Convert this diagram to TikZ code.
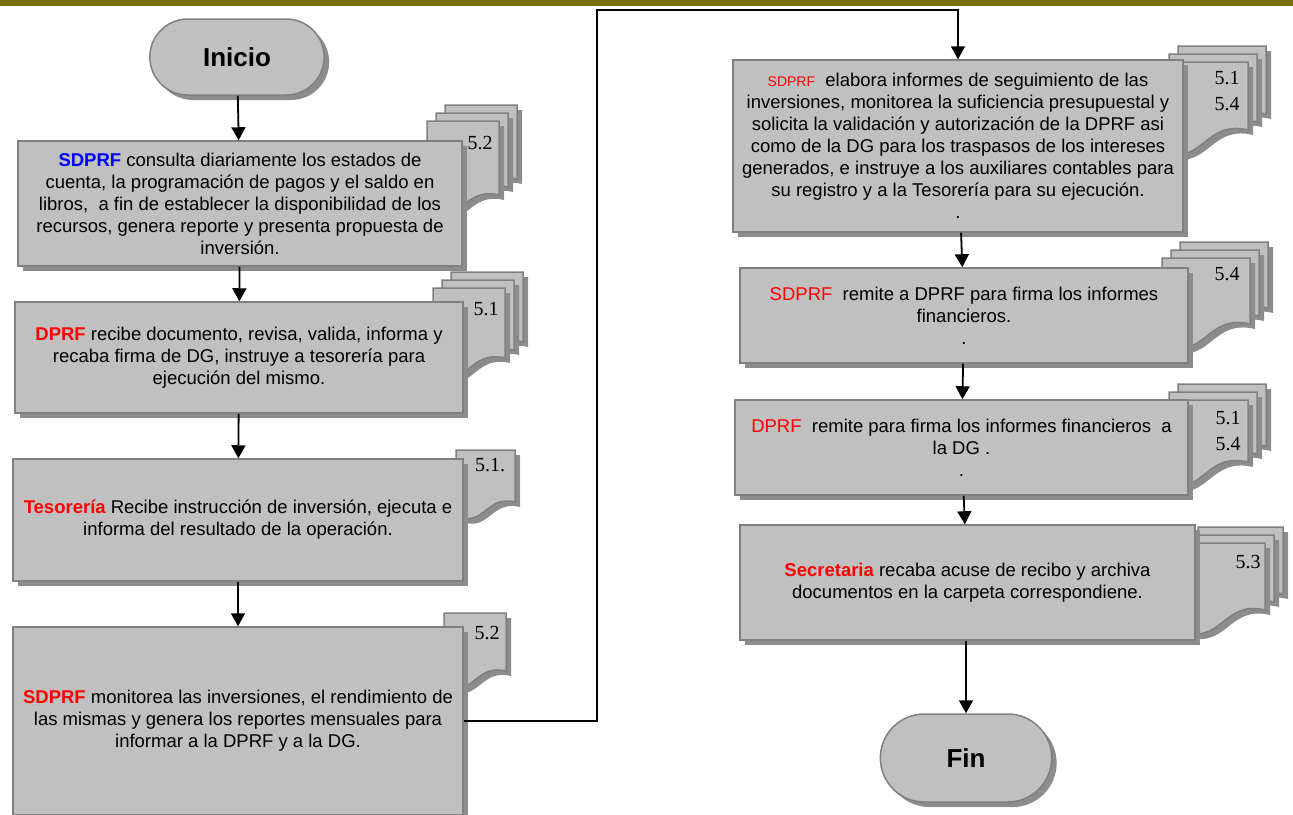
\documentclass[tikz,border=0pt]{standalone}
\usepackage{fontspec}
\setmainfont{Liberation Sans}
\newfontfamily\labelfont{Liberation Serif}
\usetikzlibrary{arrows.meta,shadows,shapes.misc}
\definecolor{olivebar}{HTML}{767000}
\definecolor{boxfill}{HTML}{C0C0C0}
\definecolor{boxedge}{HTML}{808080}
\definecolor{shade}{HTML}{8C8C8C}
\definecolor{sdblue}{HTML}{0000FF}
\definecolor{sdred}{HTML}{FF0000}

% x, y, width, height, pages behind the front one
\newcommand{\docstack}[5]{%
  \foreach \k in {#5,...,0}{%
    \begin{scope}[shift={(9*\k,-8*\k)}]
      \filldraw[docpage] (#1,#2) -- ({#1+#3},#2) -- ({#1+#3},{#2+#4})
        .. controls ({#1+0.5*#3},{#2+#4-0.12*#3}) and ({#1+0.5*#3},{#2+#4+0.42*#3}) .. (#1,{#2+#4+0.25*#3}) -- cycle;
    \end{scope}}}

\begin{document}
\begin{tikzpicture}[x=1pt,y=-1pt,
  proc/.style={rectangle,draw=boxedge,line width=1.5pt,fill=boxfill,inner sep=0pt,align=center,
    font=\fontsize{18.5}{22}\selectfont,drop shadow={shadow xshift=5pt,shadow yshift=-5pt,fill=shade,opacity=1}},
  term/.style={rounded rectangle,draw=boxedge,line width=1.5pt,fill=boxfill,font=\fontsize{26}{30}\selectfont\bfseries,
    drop shadow={shadow xshift=5pt,shadow yshift=-5pt,fill=shade,opacity=1}},
  docpage/.style={draw=boxedge,line width=1.5pt,fill=boxfill,drop shadow={shadow xshift=5pt,shadow yshift=-5pt,fill=shade,opacity=1}},
  doclabel/.style={font=\labelfont\fontsize{20}{26}\selectfont},
  flow/.style={line width=1.8pt,-{Triangle[length=13pt,width=14pt]}}]
  \useasboundingbox (0,0) rectangle (1293,814);
  \fill[olivebar] (0,0) rectangle (1293,6);

  % documents behind the steps
  \docstack{427}{121}{72}{74}{2}
  \docstack{433}{288}{72}{70}{2}
  \docstack{456}{450}{59}{52}{0}
  \docstack{444}{613}{62}{58}{0}
  \docstack{1160}{62}{88}{68}{2}
  \docstack{1162}{258}{88}{66}{2}
  \docstack{1160}{400}{88}{62}{2}
  \docstack{1180}{543}{85}{67}{2}
  \node[doclabel] (d1) at (480,143) {5.2};
  \node[doclabel] (d2) at (486,309) {5.1};
  \node[doclabel] (d3) at (490,465) {5.1.};
  \node[doclabel] (d4) at (487,633) {5.2};
  \node[doclabel,align=center] (d5) at (1227,91) {5.1\\5.4};
  \node[doclabel] (d6) at (1227,274) {5.4};
  \node[doclabel,align=center] (d7) at (1228,431) {5.1\\5.4};
  \node[doclabel] (d8) at (1248,562) {5.3};

  % left column
  \node[term,minimum width=181pt,minimum height=76pt] (inicio) at (237,57) {Inicio};
  \node[proc,minimum width=444pt,minimum height=125pt] (consulta) at (240,203.5)
    {\textcolor{sdblue}{\bfseries SDPRF} consulta diariamente los estados de\\cuenta, la programación de pagos y el saldo en\\libros,\ \ a fin de establecer la disponibilidad de los\\recursos, genera reporte y presenta propuesta de\\inversión.};
  \node[proc,minimum width=448pt,minimum height=111pt] (recibe) at (239,357.5)
    {\textcolor{sdred}{\bfseries DPRF} recibe documento, revisa, valida, informa y\\recaba firma de DG, instruye a tesorería para\\ejecución del mismo.};
  \node[proc,minimum width=450pt,minimum height=122pt] (tesoreria) at (238,520)
    {\textcolor{sdred}{\bfseries Tesorería} Recibe instrucción de inversión, ejecuta e\\informa del resultado de la operación.};
  \node[proc,minimum width=450pt,minimum height=188pt] (monitorea) at (238,721)
    {\textcolor{sdred}{\bfseries SDPRF} monitorea las inversiones, el rendimiento de\\las mismas y genera los reportes mensuales para\\informar a la DPRF y a la DG.};

  % right column
  \node[proc,minimum width=450pt,minimum height=172pt] (elabora) at (958,146)
    {{\fontsize{14}{22}\selectfont\textcolor{sdred}{SDPRF}}\ \ elabora informes de seguimiento de las\\inversiones, monitorea la suficiencia presupuestal y\\solicita la validación y autorización de la DPRF asi\\como de la DG para los traspasos de los intereses\\generados, e instruye a los auxiliares contables para\\su registro y a la Tesorería para su ejecución.\\.};
  \node[proc,minimum width=448pt,minimum height=95pt] (remite) at (964,315.5)
    {\textcolor{sdred}{SDPRF}\ \ remite a DPRF para firma los informes\\financieros.\\.};
  \node[proc,minimum width=453pt,minimum height=95pt] (firma) at (961.5,447.5)
    {\textcolor{sdred}{DPRF}\ \ remite para firma los informes financieros\ \ a\\la DG .\\.};
  \node[proc,minimum width=455pt,minimum height=115pt] (archiva) at (967.5,582.5)
    {\textcolor{sdred}{\bfseries Secretaria} recaba acuse de recibo y archiva\\documentos en la carpeta correspondiene.};
  \node[term,minimum width=178pt,minimum height=88pt] (fin) at (966,758) {Fin};

  \coordinate (jump) at (597,10);
  \draw[flow] (inicio) -- (consulta);
  \draw[flow] (consulta) -- (recibe);
  \draw[flow] (recibe) -- (tesoreria);
  \draw[flow] (tesoreria) -- (monitorea);
  \draw[flow] (monitorea.east) -| (jump) -| (elabora.north);
  \draw[flow] (elabora) -- (remite);
  \draw[flow] (remite) -- (firma);
  \draw[flow] (firma) -- (archiva);
  \draw[flow] (fin.north |- archiva.south) -- (fin.north);
\end{tikzpicture}
\end{document}
